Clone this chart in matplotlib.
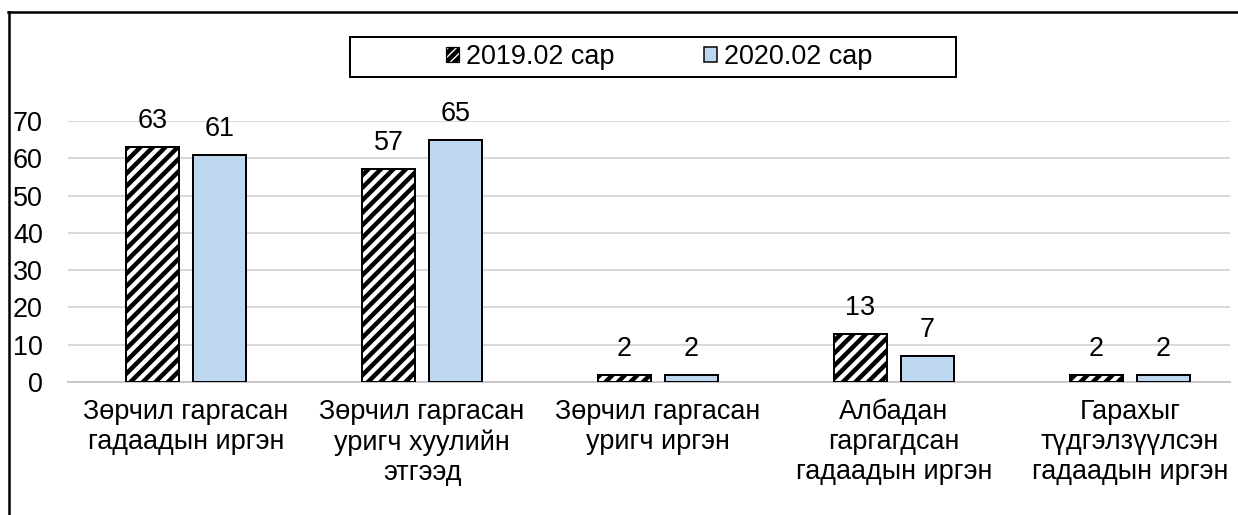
import matplotlib
matplotlib.use("Agg")
import matplotlib.pyplot as plt
from matplotlib.patches import Rectangle, Patch
from matplotlib.lines import Line2D
import numpy as np

categories = ["Зөрчил гаргасан\nгадаадын иргэн",
              "Зөрчил гаргасан\nуригч хуулийн\nэтгээд",
              "Зөрчил гаргасан\nуригч иргэн",
              "Албадан\nгаргагдсан\nгадаадын иргэн",
              "Гарахыг\nтүдгэлзүүлсэн\nгадаадын иргэн"]
series_names = ["2019.02 сар", "2020.02 сар"]
values_2019 = [63, 57, 2, 13, 2]
values_2020 = [61, 65, 2, 7, 2]
yticks = [0, 10, 20, 30, 40, 50, 60, 70]

W, H = 1238, 515
DPI = 75
PT = 72.0 / DPI  # points per pixel

plt.rcParams['font.family'] = ['Liberation Sans', 'DejaVu Sans']
plt.rcParams['hatch.linewidth'] = 4.5 * PT
plt.rcParams['hatch.color'] = 'black'

fig = plt.figure(figsize=(W / DPI, H / DPI), dpi=DPI)
fs = 27 * PT

def fx(px):
    return px / W

def fy(py):
    return 1 - py / H

ax_left, ax_right, ax_top, ax_bottom = 68, 1230, 121, 382
ax = fig.add_axes([fx(ax_left), fy(ax_bottom), fx(ax_right - ax_left), (ax_bottom - ax_top) / H])

x = np.arange(len(categories))
off = 0.142
bw = 0.225
b1 = ax.bar(x - off, values_2019, bw, facecolor='white', edgecolor='black',
            hatch='//', linewidth=2 * PT, zorder=3)
b2 = ax.bar(x + off, values_2020, bw, facecolor='#BDD7EE', edgecolor='black',
            linewidth=2 * PT, zorder=3)

for bars, vals in ((b1, values_2019), (b2, values_2020)):
    for rect, v in zip(bars, vals):
        ax.annotate(str(v), (rect.get_x() + rect.get_width() / 2, v),
                    xytext=(0, 26 * PT), textcoords='offset points',
                    ha='center', va='center', fontsize=fs, color='black',
                    annotation_clip=False)

ax.set_xlim(-0.5, (ax_right - 186) / 236)
ax.set_ylim(0, 70)
ax.set_yticks(yticks)
ax.set_yticklabels([str(t) for t in yticks])
ax.yaxis.grid(True, color='#D9D9D9', linewidth=2 * PT, zorder=0)
ax.set_axisbelow(True)
for s in ('left', 'right', 'top'):
    ax.spines[s].set_visible(False)
ax.spines['bottom'].set_color('#C8C8C8')
ax.spines['bottom'].set_linewidth(2 * PT)
ax.tick_params(axis='y', length=0, pad=25 * PT, labelsize=fs, labelcolor='black')
ax.tick_params(axis='x', length=0, pad=17 * PT, labelsize=fs, labelcolor='black')
ax.set_xticks(x)
ax.set_xticklabels(categories, linespacing=1.2, va='top', ha='center')
ax.patch.set_visible(False)

# legend frame
fig.patches.append(Rectangle((fx(350), fy(77)), fx(956 - 350), (77 - 37) / H,
                             transform=fig.transFigure, fill=False,
                             edgecolor='black', linewidth=2 * PT))
handles = [Patch(facecolor='white', edgecolor='black', hatch='///', linewidth=1.2 * PT),
           Patch(facecolor='#BDD7EE', edgecolor='black', linewidth=1.5 * PT)]
leg = fig.legend(handles, series_names, loc='center', bbox_to_anchor=(fx(659), fy(57)),
                 ncol=2, frameon=False, fontsize=fs, handlelength=0.48, handleheight=0.48,
                 handletextpad=0.26, columnspacing=3.3, borderpad=0)

# outer border (left and top)
fig.add_artist(Line2D([fx(9), fx(9)], [fy(12), 0], transform=fig.transFigure,
                      color='black', linewidth=2.5 * PT))
fig.add_artist(Line2D([fx(8), 1], [fy(12), fy(12)], transform=fig.transFigure,
                      color='black', linewidth=2.5 * PT))

fig.savefig('out.png', dpi=DPI, facecolor='white')
